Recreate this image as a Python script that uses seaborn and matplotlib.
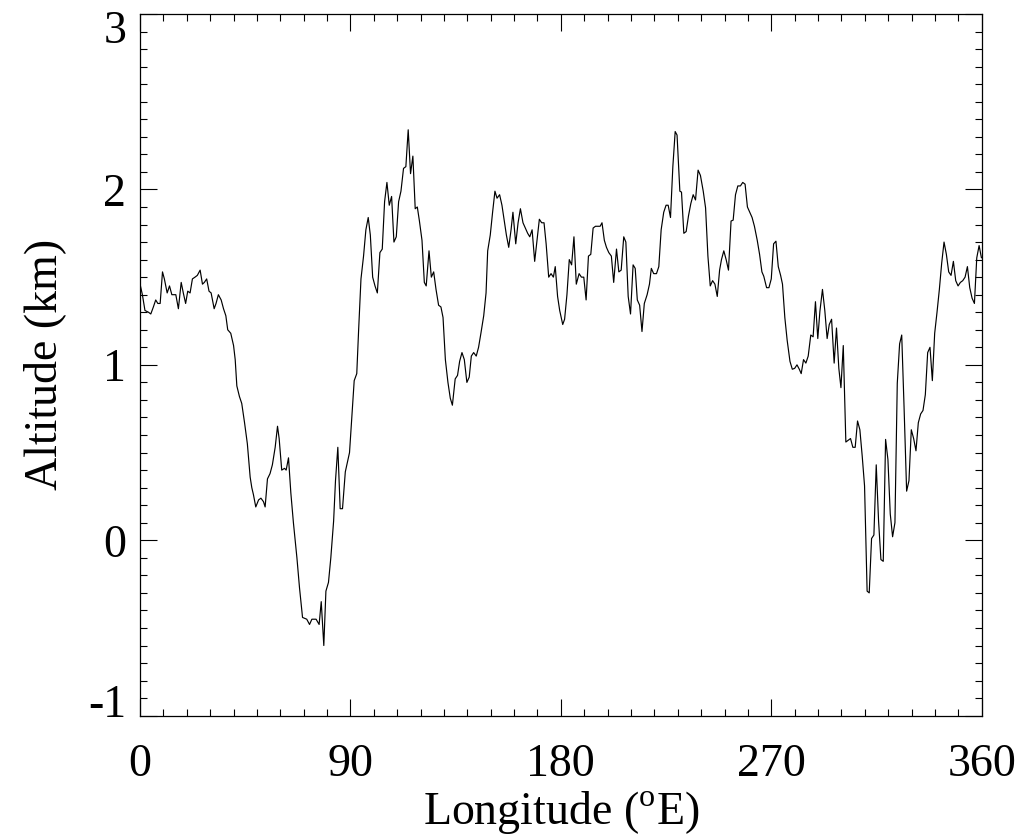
import matplotlib
matplotlib.use("Agg")
import matplotlib.pyplot as plt
from matplotlib.ticker import MultipleLocator
from matplotlib.transforms import ScaledTranslation
import pandas as pd
import seaborn as sns

# ---- data ----
lon = [0.0, 1.0, 2.1, 3.6, 4.6, 5.7, 6.7, 7.6, 8.6, 9.6, 10.4, 11.6, 12.6, 13.6, 15.3, 16.4, 17.6, 18.5, 19.5, 20.4,
       21.4, 22.4, 23.5, 24.5, 25.7, 26.7, 27.5, 28.5, 29.5, 30.4, 31.7, 32.5, 33.5, 34.7, 35.7, 36.7, 37.5, 38.8, 40.0, 40.7,
       41.4, 42.5, 43.5, 44.7, 45.9, 47.1, 47.8, 48.5, 49.5, 50.7, 51.7, 52.8, 53.5, 54.5, 55.6, 56.6, 57.8, 58.8, 59.5, 60.6,
       61.8, 62.5, 63.5, 64.5, 65.6, 67.1, 68.2, 69.5, 71.3, 72.5, 73.5, 75.3, 76.6, 77.5, 78.6, 79.5, 80.6, 81.6, 82.8, 83.6,
       84.6, 85.6, 86.6, 87.8, 89.6, 90.6, 91.6, 92.7, 93.5, 94.5, 95.6, 96.6, 97.6, 98.5, 99.5, 100.5, 101.5, 102.6, 103.6, 104.6,
       105.6, 106.6, 107.6, 108.6, 109.6, 110.6, 111.6, 112.7, 113.7, 114.7, 115.7, 116.7, 117.7, 118.6, 119.5, 120.6, 121.6, 122.4, 123.6, 124.6,
       125.6, 126.6, 127.7, 128.7, 129.6, 130.6, 131.7, 132.7, 133.6, 134.8, 135.8, 136.7, 137.7, 138.7, 139.8, 140.8, 141.7, 142.7, 143.8, 144.8,
       145.8, 147.0, 148.0, 148.7, 149.8, 150.8, 151.8, 152.7, 153.8, 154.8, 155.8, 156.7, 157.7, 158.7, 159.5, 160.7, 161.7, 162.7, 163.8, 164.8,
       165.8, 166.7, 167.7, 168.8, 169.8, 170.8, 171.8, 172.8, 173.7, 174.8, 175.8, 176.8, 177.6, 178.6, 179.5, 180.8, 181.6, 182.6, 183.6, 184.6,
       185.6, 186.6, 187.8, 188.8, 189.8, 190.8, 191.8, 192.8, 193.8, 194.8, 195.8, 196.8, 197.6, 198.6, 199.5, 200.5, 201.6, 202.6, 203.8, 204.8,
       205.8, 206.9, 207.8, 208.8, 209.8, 210.9, 211.8, 212.7, 213.7, 214.7, 215.7, 216.9, 217.9, 218.7, 219.7, 220.9, 221.9, 222.9, 224.0, 225.0,
       225.9, 226.9, 227.9, 228.9, 229.7, 230.9, 231.6, 232.6, 233.6, 234.6, 235.6, 236.6, 237.6, 238.7, 239.7, 240.9, 241.9, 242.9, 243.9, 244.9,
       245.9, 246.9, 247.9, 248.7, 249.7, 250.7, 251.7, 252.8, 253.7, 254.7, 255.7, 256.8, 257.8, 258.8, 259.8, 260.8, 261.8, 262.8, 264.0, 265.0,
       266.0, 266.8, 268.0, 269.0, 270.0, 271.0, 272.0, 273.0, 274.0, 274.8, 275.8, 276.8, 278.0, 279.0, 280.0, 281.0, 282.0, 282.8, 283.8, 284.8,
       285.8, 286.9, 287.9, 288.9, 289.9, 290.8, 291.9, 292.9, 293.9, 294.8, 295.8, 296.9, 297.9, 298.9, 299.8, 300.8, 301.9, 302.9, 303.9, 304.9,
       305.9, 306.9, 307.9, 308.9, 309.9, 311.0, 311.9, 312.9, 313.9, 314.9, 315.9, 316.9, 317.9, 318.9, 319.9, 320.9, 321.9, 322.9, 323.9, 324.9,
       325.8, 326.8, 327.9, 328.9, 329.9, 330.9, 331.9, 332.9, 333.9, 334.9, 335.9, 336.9, 337.9, 338.9, 339.9, 340.9, 341.9, 342.9, 343.9, 344.9,
       345.9, 346.9, 347.9, 348.9, 349.9, 350.9, 351.9, 352.9, 353.9, 354.9, 355.9, 356.9, 357.9, 358.9, 359.9]

alt = [1.46, 1.40, 1.31, 1.30, 1.29, 1.33, 1.37, 1.35, 1.35, 1.53, 1.49, 1.41, 1.45, 1.40, 1.40, 1.32, 1.47, 1.41, 1.35, 1.42,
       1.41, 1.49, 1.50, 1.51, 1.54, 1.46, 1.47, 1.49, 1.42, 1.41, 1.32, 1.35, 1.40, 1.37, 1.32, 1.28, 1.20, 1.18, 1.11, 1.03,
       0.88, 0.82, 0.78, 0.67, 0.55, 0.36, 0.30, 0.26, 0.19, 0.23, 0.24, 0.22, 0.19, 0.35, 0.38, 0.43, 0.53, 0.65, 0.58, 0.40,
       0.41, 0.40, 0.47, 0.27, 0.10, -0.10, -0.27, -0.44, -0.45, -0.48, -0.45, -0.45, -0.48, -0.35, -0.60, -0.29, -0.24, -0.10, 0.11, 0.34,
       0.53, 0.18, 0.18, 0.39, 0.50, 0.71, 0.91, 0.95, 1.20, 1.49, 1.62, 1.77, 1.84, 1.74, 1.50, 1.45, 1.41, 1.64, 1.66, 1.93,
       2.04, 1.91, 1.96, 1.70, 1.73, 1.93, 1.99, 2.12, 2.13, 2.34, 2.09, 2.19, 1.89, 1.90, 1.82, 1.71, 1.47, 1.45, 1.65, 1.50,
       1.53, 1.43, 1.34, 1.33, 1.27, 1.03, 0.90, 0.81, 0.77, 0.92, 0.94, 1.02, 1.07, 1.03, 0.90, 0.93, 1.05, 1.07, 1.05, 1.10,
       1.18, 1.28, 1.41, 1.65, 1.74, 1.87, 1.99, 1.95, 1.97, 1.91, 1.82, 1.74, 1.67, 1.77, 1.87, 1.69, 1.81, 1.89, 1.81, 1.78,
       1.75, 1.73, 1.77, 1.59, 1.71, 1.83, 1.81, 1.81, 1.69, 1.50, 1.52, 1.50, 1.56, 1.39, 1.31, 1.23, 1.26, 1.40, 1.60, 1.57,
       1.73, 1.46, 1.52, 1.50, 1.50, 1.37, 1.62, 1.63, 1.78, 1.79, 1.79, 1.79, 1.81, 1.71, 1.67, 1.64, 1.62, 1.47, 1.66, 1.53,
       1.54, 1.73, 1.70, 1.39, 1.29, 1.57, 1.55, 1.37, 1.34, 1.19, 1.35, 1.40, 1.46, 1.55, 1.52, 1.52, 1.56, 1.77, 1.87, 1.91,
       1.91, 1.84, 2.13, 2.33, 2.31, 1.99, 1.985, 1.75, 1.76, 1.85, 1.92, 1.97, 1.94, 2.11, 2.08, 1.99, 1.895, 1.62, 1.45, 1.48,
       1.46, 1.39, 1.54, 1.60, 1.65, 1.60, 1.54, 1.82, 1.825, 1.97, 2.02, 2.02, 2.04, 2.03, 1.90, 1.87, 1.84, 1.79, 1.71, 1.63,
       1.53, 1.505, 1.44, 1.44, 1.49, 1.69, 1.705, 1.56, 1.51, 1.46, 1.27, 1.14, 1.02, 0.975, 0.98, 1.00, 0.975, 0.95, 1.03, 1.01,
       1.05, 1.17, 1.16, 1.36, 1.15, 1.305, 1.43, 1.31, 1.15, 1.23, 1.26, 1.01, 1.21, 0.98, 0.87, 1.11, 0.56, 0.57, 0.58, 0.53,
       0.53, 0.68, 0.63, 0.48, 0.31, -0.29, -0.30, 0.01, 0.03, 0.43, 0.11, -0.11, -0.12, 0.575, 0.46, 0.15, 0.02, 0.10, 0.895, 1.12,
       1.17, 0.76, 0.28, 0.34, 0.63, 0.58, 0.51, 0.67, 0.72, 0.74, 0.83, 1.07, 1.10, 0.91, 1.18, 1.30, 1.43, 1.58, 1.70, 1.63,
       1.53, 1.51, 1.59, 1.48, 1.45, 1.47, 1.48, 1.50, 1.56, 1.44, 1.38, 1.35, 1.61, 1.68, 1.61]

xticks = [0, 90, 180, 270, 360]
xticklabels = ["0", "90", "180", "270", "360"]
yticks = [-1, 0, 1, 2, 3]
yticklabels = ["-1", "0", "1", "2", "3"]
xlabel = "Longitude ($^{\\mathrm{o}}$E)"
ylabel = "Altitude (km)"

# ---- style ----
sns.set_theme(style="ticks")
plt.rcParams["font.family"] = ["Liberation Serif", "DejaVu Serif"]
plt.rcParams["mathtext.fontset"] = "custom"
plt.rcParams["mathtext.rm"] = "Liberation Serif"
plt.rcParams["axes.unicode_minus"] = False
plt.rcParams["text.color"] = "black"
plt.rcParams["axes.labelcolor"] = "black"
plt.rcParams["xtick.color"] = "black"
plt.rcParams["ytick.color"] = "black"
plt.rcParams["xtick.labelcolor"] = "black"
plt.rcParams["ytick.labelcolor"] = "black"

fig = plt.figure(figsize=(10.23, 8.4), dpi=100)
ax = fig.add_axes([0.1369, 0.148, 0.8227, 0.8353])

df = pd.DataFrame({"lon": lon, "alt": alt})
sns.lineplot(data=df, x="lon", y="alt", ax=ax, color="black", linewidth=0.85,
             estimator=None, sort=False)

ax.set_xlim(0, 360)
ax.set_ylim(-1, 3)
ax.set_xticks(xticks)
ax.set_xticklabels(xticklabels)
ax.set_yticks(yticks)
ax.set_yticklabels(yticklabels)
ax.xaxis.set_minor_locator(MultipleLocator(10))
ax.yaxis.set_minor_locator(MultipleLocator(0.1))

for side in ["top", "right", "bottom", "left"]:
    ax.spines[side].set_visible(True)
    ax.spines[side].set_color("black")
    ax.spines[side].set_linewidth(0.9)

ax.tick_params(which="both", direction="in", top=True, right=True,
               color="black", width=0.8, labelcolor="black")
ax.tick_params(which="major", length=12)
ax.tick_params(which="minor", length=5)
ax.tick_params(axis="x", which="major", labelsize=33, pad=20)
ax.tick_params(axis="y", which="major", labelsize=33, pad=10)

# shift the end labels of the y axis inward, as in the reference
for tl in ax.get_yticklabels():
    if tl.get_text() == "3":
        tl.set_transform(tl.get_transform() + ScaledTranslation(0, -0.13, fig.dpi_scale_trans))
    elif tl.get_text() == "-1":
        tl.set_transform(tl.get_transform() + ScaledTranslation(0, 0.15, fig.dpi_scale_trans))

ax.set_xlabel(xlabel, fontsize=33, labelpad=2, color="black")
ax.set_ylabel(ylabel, fontsize=33, labelpad=16, color="black")
ax.grid(False)

fig.savefig("out.png", dpi=100, facecolor="white")
